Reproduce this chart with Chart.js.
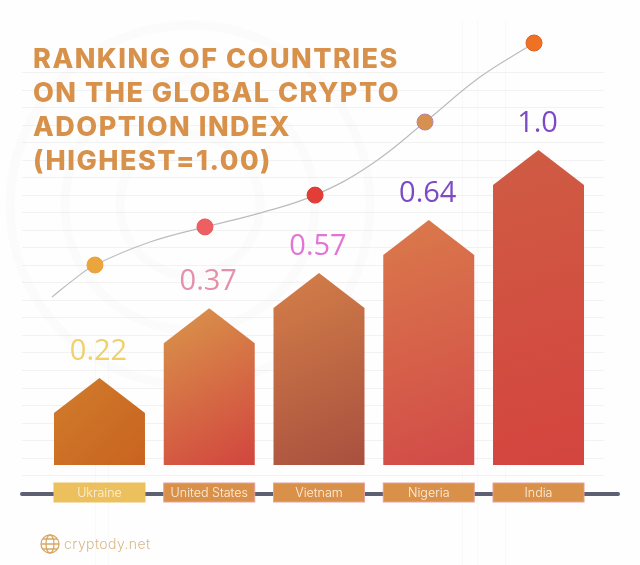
<!DOCTYPE html>
<html>
<head>
<meta charset="utf-8">
<title>Crypto adoption index</title>
<script src="https://cdn.jsdelivr.net/npm/chart.js@4/dist/chart.umd.js"></script>
<style>
html, body { margin: 0; padding: 0; background: #fefefe; }
canvas { display: block; }
</style>
</head>
<body>
<canvas id="chart" width="640" height="565"></canvas>
<script>
// data
var countries = ['Ukraine', 'United States', 'Vietnam', 'Nigeria', 'India'];
var indexLabels = ['0.22', '0.37', '0.57', '0.64', '1.0'];
var barLevels = [0.276, 0.498, 0.61, 0.778, 1.0];   // drawn height, India = 1
var curveX = [-0.433, -0.241, -0.041, 0.46, 0.961, 1.462, 1.964, 2.465, 2.966, 3.467, 3.959];
var curveY = [0.533, 0.587, 0.635, 0.708, 0.756, 0.8, 0.857, 0.952, 1.089, 1.232, 1.34];
var curveMarkers = [0, 0, 8, 0, 8, 0, 8, 0, 8, 0, 8];
var titleLines = ['RANKING OF COUNTRIES', 'ON THE GLOBAL CRYPTO', 'ADOPTION INDEX', '(HIGHEST=1.00)'];

var labelColors = ['#f0d06a', '#e58fa9', '#e274d8', '#7d4ac6', '#7d4ac6'];
var barTopColors = ['#d07c2c', '#d9964b', '#d47f49', '#da7a4b', '#cf5c43'];
var barBottomColors = ['#c9631f', '#d2453e', '#a9503f', '#d24a48', '#d4443f'];
var boxColors = ['#edc05e', '#d99149', '#d99149', '#d99149', '#d99149'];
var boxBorders = ['#edc05e', '#e6a0a0', '#e6a0a0', '#e6a0a0', '#e6a0a0'];
var pointColors = ['', '', '#eaa63c', '', '#ee5f62', '', '#e23d36', '', '#d69050', '', '#ee7125'];
var pointBorders = ['', '', '#e9a23c', '', '#e9575e', '', '#d93a34', '', '#b583a8', '', '#d9641f'];

var activeChart;

// bar with a pointed roof
class HouseBar extends Chart.BarElement {
    draw(ctx) {
        var p = this.getProps(['x', 'y', 'base', 'width']);
        var i = activeChart.getDatasetMeta(0).data.indexOf(this);
        var left = p.x - p.width / 2, right = p.x + p.width / 2;
        var grad = ctx.createLinearGradient(left, p.y, right, p.base);
        grad.addColorStop(0, barTopColors[i]);
        grad.addColorStop(1, barBottomColors[i]);
        ctx.save();
        ctx.fillStyle = grad;
        ctx.beginPath();
        ctx.moveTo(left, p.base);
        ctx.lineTo(left, p.y + 35);
        ctx.lineTo(p.x, p.y);
        ctx.lineTo(right, p.y + 35);
        ctx.lineTo(right, p.base);
        ctx.closePath();
        ctx.fill();
        ctx.restore();
    }
}
HouseBar.id = 'houseBar';

Chart.register(HouseBar);
Chart.defaults.datasets.bar.dataElementType = 'houseBar';

var backdrop = {
    id: 'backdrop',
    beforeDraw: function (chart) {
        activeChart = chart;
        var ctx = chart.ctx, i;
        ctx.save();
        ctx.fillStyle = '#fefefe';
        ctx.fillRect(0, 0, 640, 565);

        // watermark
        ctx.strokeStyle = 'rgba(120,120,120,0.02)';
        ctx.lineWidth = 9;
        [70, 125, 180].forEach(function (r) {
            ctx.beginPath();
            ctx.arc(190, 205, r, 0, Math.PI * 2);
            ctx.stroke();
        });

        // ruled lines
        ctx.strokeStyle = 'rgba(120,120,120,0.09)';
        ctx.lineWidth = 1;
        for (i = 0; i < 24; i++) {
            var ly = 72.5 + Math.round(i * 17.53);
            ctx.beginPath();
            ctx.moveTo(22, ly);
            ctx.lineTo(604, ly);
            ctx.stroke();
        }
        ctx.strokeStyle = 'rgba(120,120,120,0.04)';
        [95, 108, 462, 477, 505].forEach(function (vx) {
            ctx.beginPath();
            ctx.moveTo(vx + 0.5, vx < 200 ? 340 : 20);
            ctx.lineTo(vx + 0.5, 565);
            ctx.stroke();
        });

        // axis bar
        ctx.strokeStyle = '#5d5f73';
        ctx.lineWidth = 4;
        ctx.lineCap = 'round';
        ctx.beginPath();
        ctx.moveTo(22, 494);
        ctx.lineTo(618, 494);
        ctx.stroke();

        // label boxes under the tick labels
        var x = chart.scales.x;
        ctx.lineWidth = 1;
        countries.forEach(function (name, k) {
            var cx = x.getPixelForTick(k);
            ctx.fillStyle = boxColors[k];
            ctx.strokeStyle = boxBorders[k];
            ctx.fillRect(cx - 45.5, 483, 91, 19);
            ctx.strokeRect(cx - 45.5, 483, 91, 19);
        });
        ctx.restore();
    },
    afterDatasetsDraw: function (chart) {
        var ctx = chart.ctx;
        var bars = chart.getDatasetMeta(0).data;
        ctx.save();

        // value labels
        ctx.font = '29px "Open Sans"';
        ctx.textAlign = 'center';
        ctx.textBaseline = 'middle';
        bars.forEach(function (bar, i) {
            ctx.fillStyle = labelColors[i];
            ctx.fillText(indexLabels[i], bar.x - 1, bar.y - 26);
        });

        // title
        ctx.font = '800 27px Inter';
        ctx.letterSpacing = '1.5px';
        ctx.textAlign = 'left';
        ctx.textBaseline = 'alphabetic';
        ctx.fillStyle = '#d7914a';
        titleLines.forEach(function (line, i) {
            ctx.fillText(line, 33, 68 + i * 34);
        });

        // footer logo
        ctx.strokeStyle = '#d9a766';
        ctx.lineWidth = 1.3;
        ctx.beginPath();
        ctx.arc(50, 544, 9, 0, Math.PI * 2);
        ctx.stroke();
        ctx.beginPath();
        ctx.ellipse(50, 544, 4, 9, 0, 0, Math.PI * 2);
        ctx.moveTo(41, 544);
        ctx.lineTo(59, 544);
        ctx.moveTo(43, 539);
        ctx.lineTo(57, 539);
        ctx.moveTo(43, 549);
        ctx.lineTo(57, 549);
        ctx.stroke();
        ctx.font = '300 14px Inter';
        ctx.letterSpacing = '0.4px';
        ctx.fillStyle = '#d9b98a';
        ctx.fillText('cryptody.net', 64, 549);
        ctx.restore();
    }
};

new Chart(document.getElementById('chart'), {
    data: {
        labels: countries,
        datasets: [
            {
                type: 'bar',
                data: barLevels,
                grouped: false,
                categoryPercentage: 1,
                barPercentage: 0.829,
                xAxisID: 'x',
                yAxisID: 'y',
                order: 2
            },
            {
                type: 'line',
                data: curveX.map(function (v, i) { return { x: v, y: curveY[i] }; }),
                xAxisID: 'xCurve',
                yAxisID: 'y',
                borderColor: '#bcbcc0',
                borderWidth: 1.2,
                tension: 0.4,
                pointRadius: curveMarkers,
                pointBorderWidth: 1,
                pointBackgroundColor: pointColors,
                pointBorderColor: pointBorders,
                order: 1
            }
        ]
    },
    options: {
        responsive: false,
        animation: false,
        layout: { padding: { left: 44.6, right: 46.6, top: 0, bottom: 0 } },
        plugins: { legend: { display: false }, tooltip: { enabled: false } },
        scales: {
            x: {
                type: 'category',
                offset: true,
                grid: { display: false },
                border: { display: false },
                afterFit: function (scale) { scale.height = 100; },
                ticks: {
                    color: '#fdf0e2',
                    padding: 13,
                    maxRotation: 0,
                    autoSkip: false,
                    font: { family: 'Inter', size: 12.5, weight: '300' }
                }
            },
            xCurve: { type: 'linear', display: false, min: -0.5, max: 4.5 },
            y: { type: 'linear', display: false, min: 0, max: 1.448 }
        }
    },
    plugins: [backdrop]
});
</script>
</body>
</html>
